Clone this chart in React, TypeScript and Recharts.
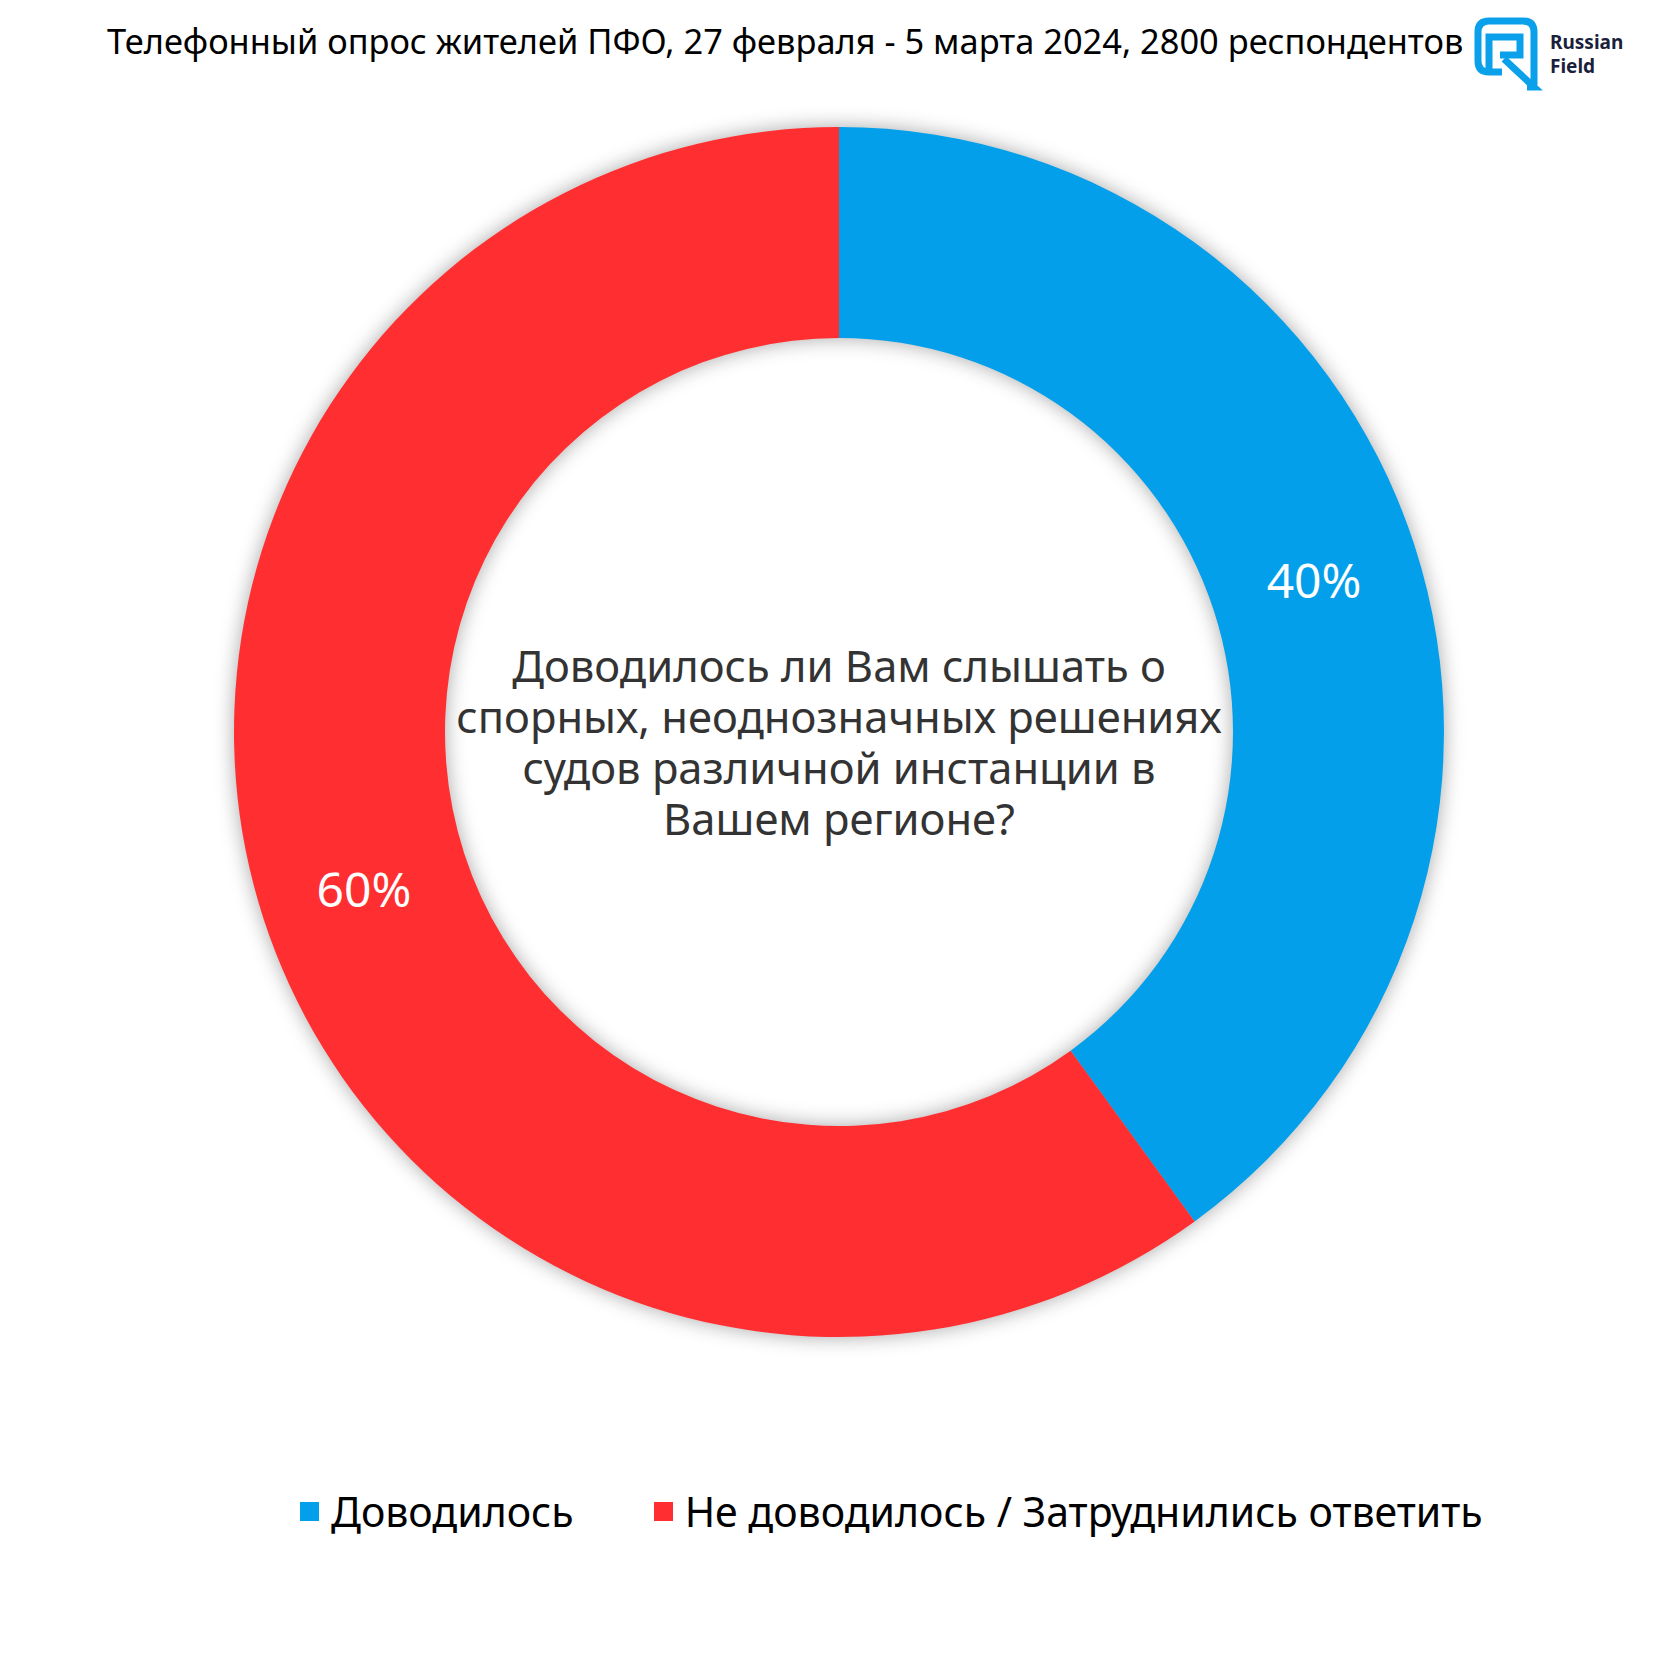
import { PieChart, Pie, Cell, Legend } from 'recharts';

const categories = ['Доводилось', 'Не доводилось / Затруднились ответить'];
const shares = [40, 60];
const colors = ['#049FEA', '#FF2E30'];

const title = 'Телефонный опрос жителей ПФО, 27 февраля - 5 марта 2024, 2800 респондентов';
const questionLines = [
  'Доводилось ли Вам слышать о',
  'спорных, неоднозначных решениях',
  'судов различной инстанции в',
  'Вашем регионе?',
];

const data = categories.map((name, i) => ({ name, value: shares[i] }));

const W = 1680;
const H = 1680;
const CX = 839;
const CY = 732;
const RADIAN = Math.PI / 180;
const FONT = '"Noto Sans", "DejaVu Sans", sans-serif';

const renderLabel = (props: any) => {
  const { cx, cy, midAngle, innerRadius, outerRadius, value } = props;
  const r = (innerRadius + outerRadius) / 2;
  const x = cx + r * Math.cos(-midAngle * RADIAN);
  const y = cy + r * Math.sin(-midAngle * RADIAN);
  return (
    <text x={x} y={y + 2} fill="#fff" fontSize={48} fontFamily={FONT} textAnchor="middle" dominantBaseline="central">
      {value}%
    </text>
  );
};

const renderLegend = () => (
  <div style={{ display: 'flex', alignItems: 'center', paddingLeft: 300, fontFamily: FONT, fontSize: 41, color: '#000' }}>
    {categories.map((c, i) => (
      <div key={c} style={{ display: 'flex', alignItems: 'center', marginRight: 80 }}>
        <span style={{ width: 19, height: 19, background: colors[i], display: 'inline-block', marginRight: 12 }} />
        <span style={{ lineHeight: '48px' }}>{c}</span>
      </div>
    ))}
  </div>
);

function Logo() {
  return (
    <g transform="translate(1470,15)">
      <path
        d="M32 57 L19 57 Q8 57 8 46 L8 17 Q8 6 19 6 L53 6 Q64 6 64 17 L64 70"
        fill="none"
        stroke="#0AA0EA"
        strokeWidth={7}
        strokeLinejoin="round"
      />
      <path d="M19 58 L19 22 L50 22 L50 40 L30 40" fill="none" stroke="#0AA0EA" strokeWidth={7} />
      <path d="M34 44 L64 72 L57 72" fill="none" stroke="#0AA0EA" strokeWidth={7} />
      <text x={80} y={34} fontSize={19} fontWeight={700} fill="#1B1F3B" fontFamily={FONT}>
        Russian
      </text>
      <text x={80} y={58} fontSize={19} fontWeight={700} fill="#1B1F3B" fontFamily={FONT}>
        Field
      </text>
    </g>
  );
}

export default function App() {
  return (
    <div style={{ position: 'absolute', left: 0, top: 0, width: W, height: H, background: '#fff' }}>
      <style>{'.recharts-pie { filter: drop-shadow(0 0 10px rgba(0,0,0,0.34)); }'}</style>
      <PieChart width={W} height={H} margin={{ top: 0, right: 0, bottom: 0, left: 0 }}>
        <Pie
          data={data}
          dataKey="value"
          nameKey="name"
          cx={CX}
          cy={CY}
          innerRadius={394}
          outerRadius={605}
          startAngle={90}
          endAngle={-270}
          stroke="none"
          label={renderLabel}
          labelLine={false}
          isAnimationActive={false}
        >
          {data.map((_, i) => (
            <Cell key={i} fill={colors[i]} stroke="none" />
          ))}
        </Pie>
        <Legend content={renderLegend} wrapperStyle={{ position: 'absolute', top: 1487, left: 0, width: W, height: 48 }} />
      </PieChart>
      <svg width={W} height={H} style={{ position: 'absolute', left: 0, top: 0, pointerEvents: 'none' }}>
        <text x={107} y={40} fontSize={34.4} fontFamily={FONT} fill="#000" dominantBaseline="central">
          {title}
        </text>
        <Logo />
        {questionLines.map((l, i) => (
          <text
            key={i}
            x={CX}
            y={665 + i * 51}
            fontSize={43.5}
            fontFamily={FONT}
            fill="#333"
            textAnchor="middle"
            dominantBaseline="central"
          >
            {l}
          </text>
        ))}
      </svg>
    </div>
  );
}
